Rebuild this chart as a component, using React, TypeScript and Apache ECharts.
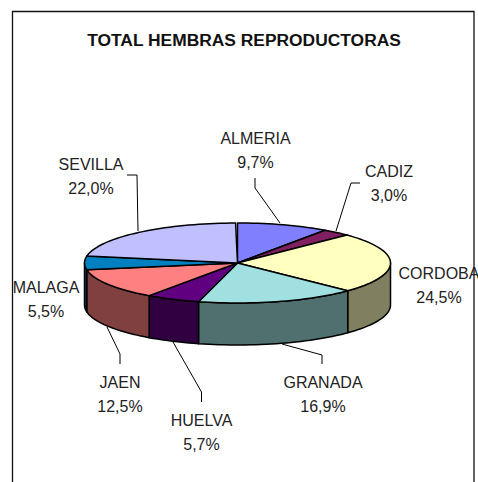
import React, { useEffect, useRef } from "react";
import * as echarts from "echarts";

const names = ["ALMERIA", "CADIZ", "CORDOBA", "GRANADA", "HUELVA", "JAEN", "MALAGA", "SEVILLA"];
const shares = [9.7, 3.0, 24.5, 16.9, 5.7, 12.5, 5.5, 22.0];
const percentLabels = ["9,7%", "3,0%", "24,5%", "16,9%", "5,7%", "12,5%", "5,5%", "22,0%"];
const topColors = ["#8080FF", "#802060", "#FFFFC0", "#A0E0E0", "#600080", "#FF8080", "#0080C0", "#C0C0FF"];
const sideColors = ["#404080", "#401030", "#808060", "#507070", "#300040", "#804040", "#004060", "#606080"];
const labelCenters = [
  [255.5, 138], [389, 171], [439, 273], [323, 382],
  [201.5, 420], [120, 382], [46, 287], [91, 164],
];
const leaders: number[][][] = [
  [[255, 178], [255, 188], [280, 223]],
  [[360, 183], [351, 183], [336, 231]],
  [],
  [[282, 344], [322, 355], [322, 364]],
  [[173, 342], [201.5, 392], [201.5, 402]],
  [[107, 327], [120, 354], [120, 364]],
  [],
  [[127, 175], [137, 175], [138, 231]],
];

const CX = 237.5;
const CY = 263;
const RX = 153;
const RY = 40;
const DEPTH = 42;
const FONT = '"Liberation Sans", Arial, sans-serif';

function pt(deg: number, dy = 0): number[] {
  const a = (deg * Math.PI) / 180;
  return [CX + RX * Math.sin(a), CY - RY * Math.cos(a) + dy];
}
function arc(from: number, to: number, dy = 0): number[][] {
  const out: number[][] = [];
  const n = Math.max(2, Math.ceil(Math.abs(to - from) / 2));
  for (let i = 0; i <= n; i++) out.push(pt(from + ((to - from) * i) / n, dy));
  return out;
}

export default function App() {
  const ref = useRef<HTMLDivElement>(null);
  useEffect(() => {
    const chart = echarts.init(ref.current!, undefined, { renderer: "svg" });
    let acc = 0;
    const rows = shares.map((v, i) => {
      const s = (acc / 100) * 360;
      acc += v;
      return { value: [s, (acc / 100) * 360, i], name: names[i] };
    });
    const textEls: any[] = [];
    names.forEach((n, i) => {
      const [x, y] = labelCenters[i];
      textEls.push({
        type: "text", x, y, z: 20,
        style: { text: n, font: `16px ${FONT}`, fill: "#222", textAlign: "center", textVerticalAlign: "middle" },
      });
      textEls.push({
        type: "text", x, y: y + 24.5, z: 20,
        style: { text: percentLabels[i], font: `16px ${FONT}`, fill: "#222", textAlign: "center", textVerticalAlign: "middle" },
      });
      if (leaders[i].length) {
        textEls.push({
          type: "polyline", z: 15,
          shape: { points: leaders[i] },
          style: { stroke: "#000", lineWidth: 1, fill: "none" },
        });
      }
    });
    chart.setOption({
      animation: false,
      backgroundColor: "#fff",
      title: {
        text: "TOTAL HEMBRAS REPRODUCTORAS",
        left: 239, top: 26, textAlign: "center",
        textStyle: { fontFamily: FONT, fontWeight: "bold", fontSize: 17.4, color: "#111" },
      },
      graphic: [
        {
          type: "polyline", z: 1,
          shape: { points: [[12.5, 482], [12.5, 11.5], [474, 11.5], [474, 482]] },
          style: { stroke: "#111", lineWidth: 1.3, fill: "none" },
        },
        ...textEls,
      ],
      series: [
        {
          type: "custom", coordinateSystem: "none", z: 5, silent: true,
          data: rows,
          renderItem: (_: any, api: any) => {
            const s = api.value(0), e = api.value(1), i = api.value(2);
            const a = Math.max(s, 90), b = Math.min(e, 270);
            if (b <= a) return { type: "group", children: [] };
            return {
              type: "polygon",
              shape: { points: [...arc(a, b, 0), ...arc(b, a, DEPTH)] },
              style: { fill: sideColors[i], stroke: "#000", lineWidth: 1.5, lineJoin: "round" },
            };
          },
        },
        {
          type: "custom", coordinateSystem: "none", z: 6, silent: true,
          data: rows,
          renderItem: (_: any, api: any) => {
            const s = api.value(0), e = api.value(1), i = api.value(2);
            return {
              type: "polygon",
              shape: { points: [[CX, CY], ...arc(s, e)] },
              style: { fill: topColors[i], stroke: "#000", lineWidth: 1.5, lineJoin: "round" },
            };
          },
        },
      ],
    });
    return () => chart.dispose();
  }, []);
  return <div ref={ref} style={{ position: "absolute", left: 0, top: 0, width: 478, height: 482 }} />;
}
